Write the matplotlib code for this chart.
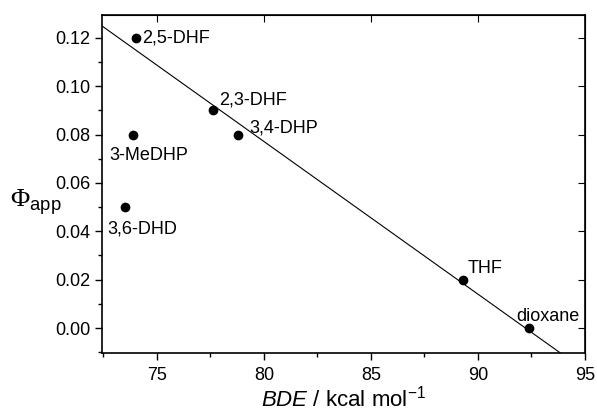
import matplotlib
matplotlib.use("Agg")
import matplotlib.pyplot as plt
from matplotlib.ticker import MultipleLocator
import numpy as np

# data
compounds = ["2,5-DHF", "3-MeDHP", "3,6-DHD", "2,3-DHF", "3,4-DHP", "THF", "dioxane"]
bde = [74.0, 73.9, 73.5, 77.6, 78.8, 89.3, 92.4]
phi_app = [0.120, 0.080, 0.050, 0.090, 0.080, 0.020, 0.000]
# label offsets in pixels (dx, dy)
label_offsets = [(7, 0), (-24, -21), (-18, -22), (6, 10), (11, 7), (5, 11), (-13, 12)]

fit_slope = -0.00631
fit_intercept = 0.5819

plt.rcParams['font.family'] = ['Liberation Sans', 'DejaVu Sans']
plt.rcParams['mathtext.fontset'] = 'custom'
plt.rcParams['mathtext.rm'] = 'Liberation Serif'
plt.rcParams['mathtext.it'] = 'Liberation Sans:italic'
plt.rcParams['mathtext.sf'] = 'Liberation Sans'

fig = plt.figure(figsize=(5.97, 4.12), dpi=100)
ax = fig.add_axes([102 / 597, 1 - 353 / 412, (585 - 102) / 597, (353 - 15) / 412])

xfit = np.array([70.0, 97.0])
ax.plot(xfit, fit_slope * xfit + fit_intercept, color="black", lw=0.8)
ax.plot(bde, phi_app, "o", color="black", ms=6)

for name, x, y, off in zip(compounds, bde, phi_app, label_offsets):
    ax.annotate(name, (x, y), xytext=off, textcoords="offset pixels",
                ha="left", va="center", fontsize=13)

ax.set_xlim(72.43, 95.0)
ax.set_ylim(-0.0103, 0.1294)
ax.xaxis.set_major_locator(MultipleLocator(5))
ax.xaxis.set_minor_locator(MultipleLocator(2.5))
ax.yaxis.set_major_locator(MultipleLocator(0.02))
ax.yaxis.set_minor_locator(MultipleLocator(0.01))
ax.yaxis.set_major_formatter(plt.FormatStrFormatter("%.2f"))

ax.tick_params(which="both", direction="out", labelsize=13, width=1)
ax.tick_params(which="major", length=5)
ax.tick_params(which="minor", length=3)
ax.tick_params(axis="x", which="major", pad=5)

# top/right ticks drawn inward at majors only
top = ax.secondary_xaxis("top")
top.xaxis.set_major_locator(MultipleLocator(5))
top.tick_params(direction="in", length=5, labeltop=False)
right = ax.secondary_yaxis("right")
right.yaxis.set_major_locator(MultipleLocator(0.02))
right.tick_params(direction="in", length=5, labelright=False)

for s in ax.spines.values():
    s.set_linewidth(1.2)

ax.set_xlabel(r"$\it{BDE}$ / kcal mol$^{\mathsf{-1}}$", fontsize=16, labelpad=1)
fig.text(10 / 597, 1 - 202 / 412, r"$\Phi_{\mathsf{app}}$", fontsize=19,
         ha="left", va="center")

fig.savefig("out.png", dpi=100)
